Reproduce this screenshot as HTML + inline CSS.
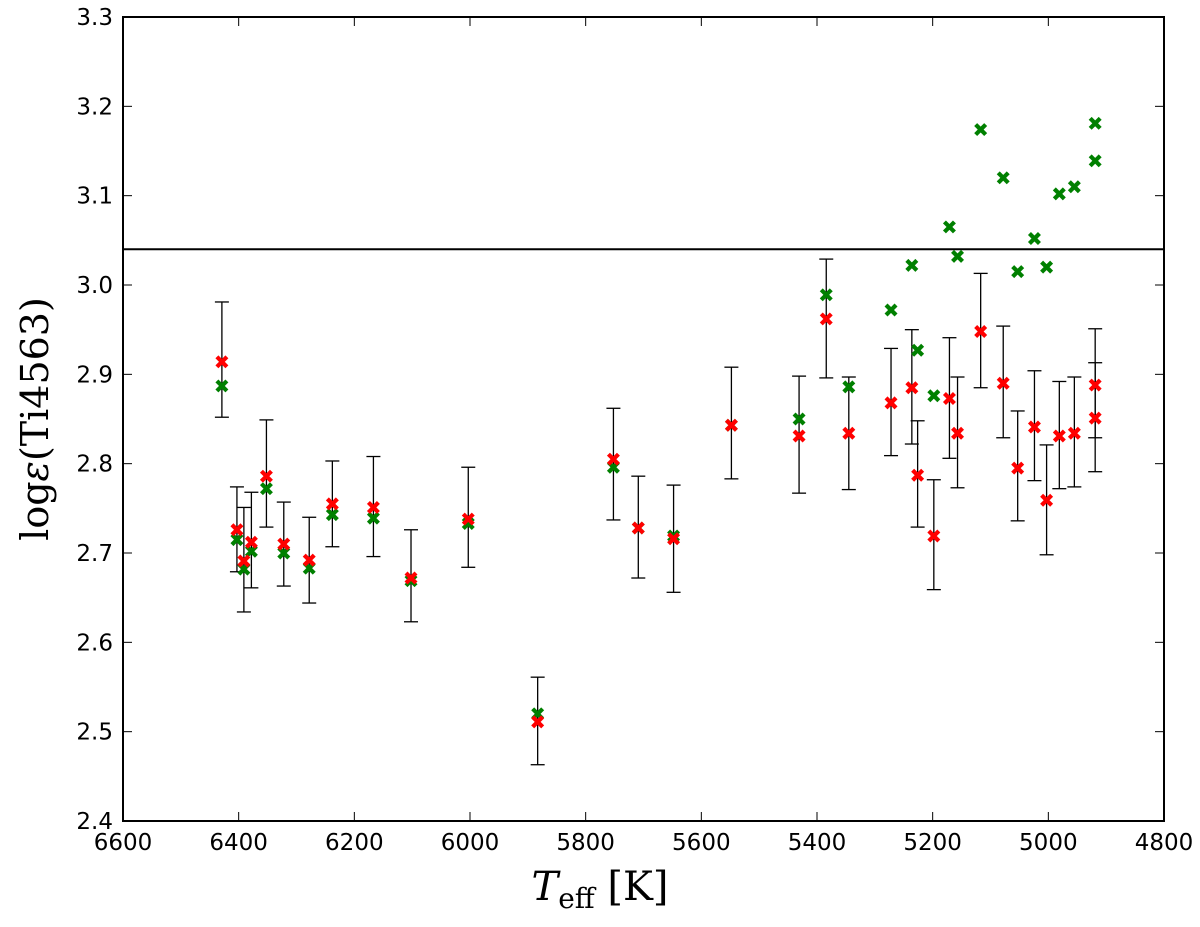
<!DOCTYPE html>
<html><head><meta charset="utf-8"><style>
body{margin:0;background:#fff}
#chart text{font-family:"DejaVu Sans","Liberation Sans",sans-serif}
</style></head><body>
<svg id="chart" width="1200" height="922" viewBox="0 0 1200 922" xmlns="http://www.w3.org/2000/svg">
<rect width="1200" height="922" fill="#fff"/>
<g id="marks"></g>
<g id="axes"></g>
</svg>
<script>
const teff = [6429,6403,6391,6378,6352,6322,6278,6238,6167,6102,6003,5883,5752,5709,5648,5548,5431,5384,5345,5272,5236,5226,5198,5171,5157,5117,5078,5053,5024,5003,4981,4955,4919,4919];
const redVals = [2.914,2.726,2.691,2.712,2.786,2.710,2.692,2.755,2.751,2.672,2.738,2.511,2.805,2.728,2.716,2.843,2.831,2.962,2.834,2.868,2.885,2.787,2.719,2.873,2.834,2.948,2.890,2.795,2.841,2.759,2.831,2.834,2.888,2.851];
const greenVals = [2.887,2.715,2.682,2.702,2.772,2.700,2.683,2.743,2.739,2.669,2.733,2.520,2.796,2.728,2.719,2.843,2.850,2.989,2.886,2.972,3.022,2.927,2.876,3.065,3.032,3.174,3.120,3.015,3.052,3.020,3.102,3.110,3.181,3.139];
const errHigh = [2.981,2.774,2.751,2.768,2.849,2.757,2.740,2.803,2.808,2.726,2.796,2.561,2.862,2.786,2.776,2.908,2.898,3.029,2.897,2.929,2.950,2.848,2.782,2.941,2.897,3.013,2.954,2.859,2.904,2.821,2.892,2.897,2.951,2.913];
const errLow = [2.852,2.679,2.634,2.661,2.729,2.663,2.644,2.707,2.696,2.623,2.684,2.463,2.737,2.672,2.656,2.783,2.767,2.896,2.771,2.809,2.822,2.729,2.659,2.806,2.773,2.885,2.829,2.736,2.781,2.698,2.772,2.774,2.791,2.829];
const xTicks = [6600,6400,6200,6000,5800,5600,5400,5200,5000,4800];
const yTicks = [2.4,2.5,2.6,2.7,2.8,2.9,3.0,3.1,3.2,3.3];
const refLine = 3.04;

const L=123,R=1164,T=17,B=821;
const xs = t => L + (6600 - t) / 1800 * (R - L);
const ys = v => B - (v - 2.4) / 0.9 * (B - T);
const NS='http://www.w3.org/2000/svg';
function mk(tag, attrs, parent){const e=document.createElementNS(NS,tag);for(const k in attrs)e.setAttribute(k,attrs[k]);parent.appendChild(e);return e;}
const marks=document.getElementById('marks'), axes=document.getElementById('axes');

const rl=mk('line',{x1:L,x2:R,y1:ys(refLine),y2:ys(refLine),stroke:'#000','stroke-width':2},marks);



teff.forEach((t,i)=>{
  const x=xs(t);
  const g=mk('g',{stroke:'#000','stroke-width':1.3},marks);
  
  
  mk('line',{x1:x,x2:x,y1:ys(errHigh[i]),y2:ys(errLow[i])},g);
  mk('line',{x1:x-7,x2:x+7,y1:ys(errHigh[i]),y2:ys(errHigh[i])},g);
  mk('line',{x1:x-7,x2:x+7,y1:ys(errLow[i]),y2:ys(errLow[i])},g);
});
function xmark(x,y,color,name){
  const d=`M${x-5},${y-5}L${x+5},${y+5}M${x-5},${y+5}L${x+5},${y-5}`;
  const p=mk('path',{d:d,stroke:color,'stroke-width':4.2,fill:'none'},marks);
  
  
}
teff.forEach((t,i)=>xmark(xs(t),ys(greenVals[i]),'#008000','green-point'));
teff.forEach((t,i)=>xmark(xs(t),ys(redVals[i]),'#ff0000','red-point'));

const fr=mk('rect',{x:L,y:T,width:R-L,height:B-T,fill:'none',stroke:'#000','stroke-width':2},axes);


xTicks.forEach(t=>{
  const x=xs(t);
  mk('line',{x1:x,x2:x,y1:B,y2:B-9,stroke:'#000','stroke-width':1},axes);
  mk('line',{x1:x,x2:x,y1:T,y2:T+9,stroke:'#000','stroke-width':1},axes);
  const tx=mk('text',{x:x,y:B+29,'text-anchor':'middle','font-size':23},axes);
  tx.textContent=t;
  
  
});
yTicks.forEach(v=>{
  const y=ys(v);
  mk('line',{x1:L,x2:L+9,y1:y,y2:y,stroke:'#000','stroke-width':1},axes);
  mk('line',{x1:R,x2:R-9,y1:y,y2:y,stroke:'#000','stroke-width':1},axes);
  const tx=mk('text',{x:L-10,y:y+8,'text-anchor':'end','font-size':23},axes);
  tx.textContent=v.toFixed(1);
  
  
});
</script>
<svg style="position:absolute;left:0;top:0" width="1200" height="922">
<text x="600" y="900" text-anchor="middle" style="font-family:'DejaVu Serif','Liberation Serif',serif;font-size:40px"><tspan font-style="italic">T</tspan><tspan style="font-size:28px" dy="8">eff</tspan><tspan dy="-8"> [K]</tspan></text>
<text transform="translate(48,419) rotate(-90)" text-anchor="middle" style="font-family:'DejaVu Serif','Liberation Serif',serif;font-size:38px">log<tspan font-style="italic">ε</tspan>(Ti4563)</text>
</svg>
</body></html>
